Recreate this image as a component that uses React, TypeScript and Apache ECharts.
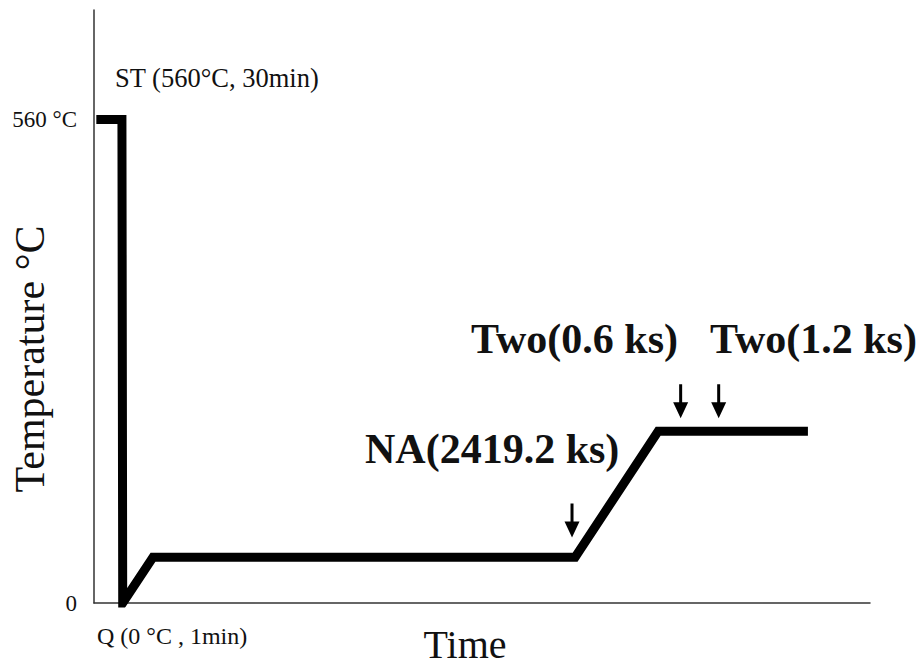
import React, { useEffect, useRef } from "react";
import * as echarts from "echarts";

// Heat-treatment schedule (time in arbitrary units, temperature in °C)
const pathTime = [0.3, 3.6, 3.7, 7.6, 62.0, 72.7, 92.0];
const pathTemp = [560, 560, 0, 53, 53, 199, 199];

// Arrow markers (tip positions)
const arrowTime = [61.6, 75.6, 80.5];
const arrowTemp = [76, 214, 214];

const yTicks = [0, 560];
const yTickLabels = ["0", "560 °C"];

const SERIF = "'Liberation Serif', 'Times New Roman', serif";

export default function App() {
  const ref = useRef<HTMLDivElement>(null);
  useEffect(() => {
    document.body.style.margin = "0";
    const chart = echarts.init(ref.current!, null, { renderer: "svg" });
    const lineData = pathTime.map((t, i) => [t, pathTemp[i]]);
    const arrowData = arrowTime.map((t, i) => [t, arrowTemp[i]]);
    chart.setOption({
      animation: false,
      backgroundColor: "#ffffff",
      grid: { left: 94, right: 48, top: 10, bottom: 63 },
      xAxis: {
        type: "value",
        min: 0,
        max: 100,
        axisLine: { show: true, lineStyle: { color: "#333", width: 1.5 } },
        axisTick: { show: false },
        axisLabel: { show: false },
        splitLine: { show: false },
      },
      yAxis: {
        type: "value",
        min: 0,
        max: 687,
        interval: 560,
        axisLine: { show: true, lineStyle: { color: "#333", width: 1.5 } },
        axisTick: { show: false },
        splitLine: { show: false },
        axisLabel: {
          margin: 17,
          fontFamily: SERIF,
          fontSize: 23,
          color: "#111",
          formatter: (v: number) => {
            const idx = yTicks.indexOf(v);
            return idx >= 0 ? yTickLabels[idx] : "";
          },
        },
      },
      series: [
        {
          type: "line",
          data: lineData,
          symbol: "none",
          lineStyle: { color: "#000", width: 9, join: "miter", cap: "butt" },
          z: 3,
        },
        {
          type: "scatter",
          data: arrowData,
          symbol: "path://M6,0 L9,0 L9,18 L15,18 L7.5,34 L0,18 L6,18 Z",
          symbolSize: [15, 34],
          symbolOffset: [0, "-50%"],
          itemStyle: { color: "#000", opacity: 1 },
          z: 4,
        },
      ],
      graphic: [
        {
          type: "text",
          x: 115,
          y: 78,
          style: { text: "ST (560°C, 30min)", font: `26.5px ${SERIF}`, fill: "#111", verticalAlign: "middle", align: "left" },
        },
        {
          type: "text",
          x: 97,
          y: 636,
          style: { text: "Q (0 °C , 1min)", font: `24px ${SERIF}`, fill: "#111", verticalAlign: "middle", align: "left" },
        },
        {
          type: "text",
          x: 465,
          y: 644,
          style: { text: "Time", font: `40px ${SERIF}`, fill: "#111", verticalAlign: "middle", align: "center" },
        },
        {
          type: "text",
          x: 30,
          y: 359,
          rotation: Math.PI / 2,
          style: { text: "Temperature °C", font: `42px ${SERIF}`, fill: "#111", verticalAlign: "middle", align: "center" },
        },
        {
          type: "text",
          x: 678,
          y: 339,
          style: { text: "Two(0.6 ks)", font: `bold 42px ${SERIF}`, fill: "#111", verticalAlign: "middle", align: "right" },
        },
        {
          type: "text",
          x: 710,
          y: 339,
          style: { text: "Two(1.2 ks)", font: `bold 42px ${SERIF}`, fill: "#111", verticalAlign: "middle", align: "left" },
        },
        {
          type: "text",
          x: 365,
          y: 449,
          style: { text: "NA(2419.2 ks)", font: `bold 42px ${SERIF}`, fill: "#111", verticalAlign: "middle", align: "left" },
        },
      ],
    });
    return () => chart.dispose();
  }, []);
  return <div ref={ref} style={{ width: 918, height: 666 }} />;
}
